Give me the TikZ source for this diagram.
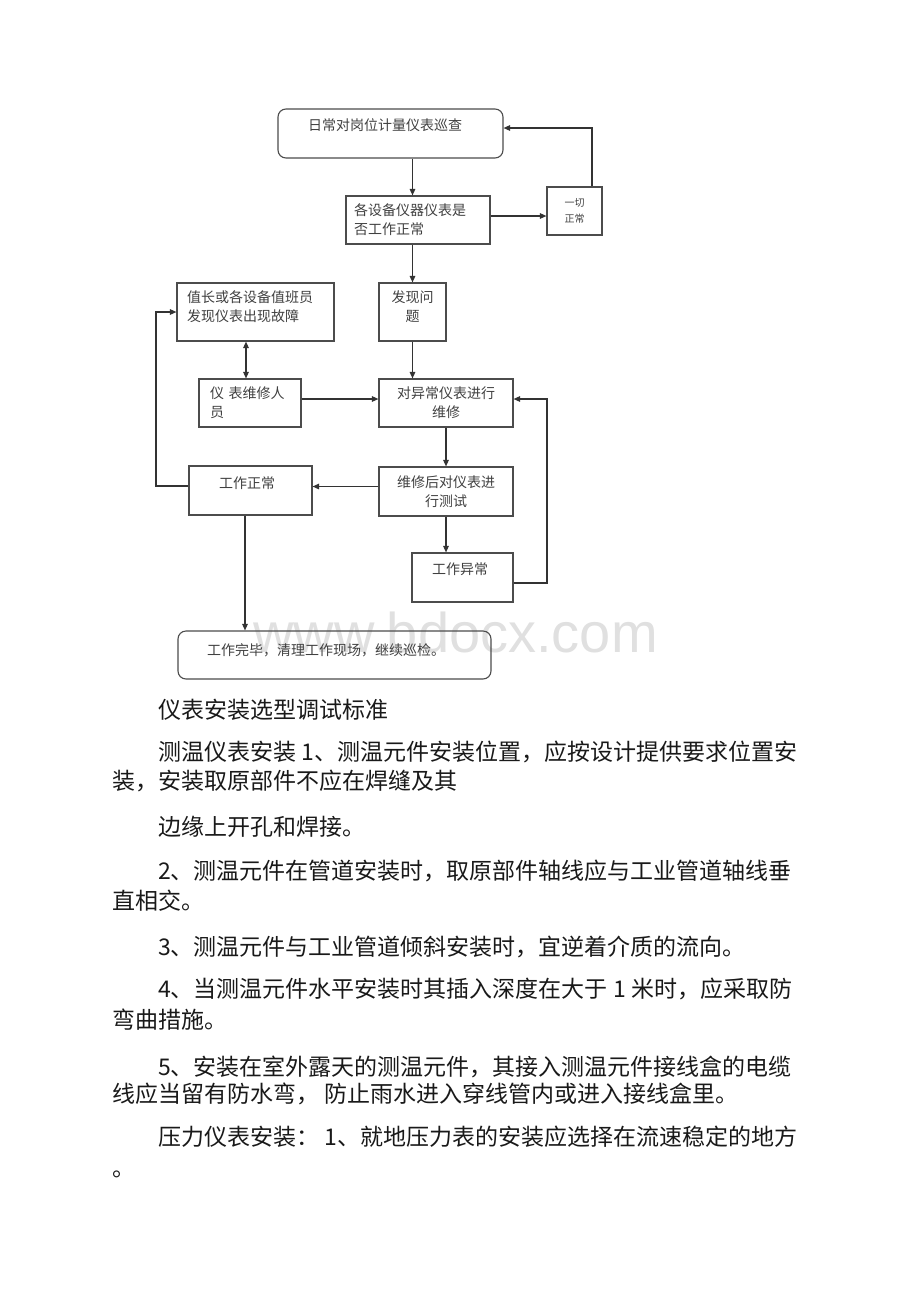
\documentclass[tikz,border=0pt]{standalone}
\usepackage{fontspec}
\newfontfamily\cjk{Noto Sans CJK SC}
\newfontfamily\wmfont{Liberation Sans}
\usetikzlibrary{positioning, arrows.meta}

\tikzset{
  box/.style={draw=black!70, line width=1.1pt, inner sep=0pt, text=black!75,
    font=\cjk\fontsize{14}{19}\selectfont},
  rbox/.style={box, rounded corners=8pt},
  lbl/.style={inner sep=0pt, text=black!75, font=\cjk\fontsize{14}{19}\selectfont},
  arr/.style={draw=black!80, line width=1.3pt, ->},
  darr/.style={arr, <->},
  para/.style={anchor=west, inner sep=0pt, text=black!90, text height=19pt, text depth=1.5pt,
    font=\cjk\fontsize{23}{30}\selectfont}
}

\begin{document}
\begin{tikzpicture}[x=1pt, y=-1pt, >={Triangle[length=6.5pt,width=5.5pt]}]
  \useasboundingbox (0,0) rectangle (920,1302);

  % watermark, behind the chart
  \node[anchor=base west, inner sep=0pt, text=black!12, font=\wmfont\fontsize{56}{56}\selectfont] (mark) at (253,652) {www.bdocx.com};

  % flow chart
  \node[rbox, minimum width=225pt, minimum height=49pt] (patrol) at (390.5,133.5) {};
  \node[lbl] (patrol-t) at (385,125) {日常对岗位计量仪表巡查};
  \node[box, minimum width=144pt, minimum height=48pt, text width=128pt, align=left] (check) at (418,220) {各设备仪器仪表是\\否工作正常};
  \node[box, minimum width=55pt, minimum height=48pt, align=center, font=\cjk\fontsize{10}{16}\selectfont] (allok) at (574.5,211) {一切\\正常};
  \node[box, minimum width=157pt, minimum height=58pt] (duty) at (255.5,312) {};
  \node[lbl, align=left, anchor=west] (duty-t) at (187,307) {值长或各设备值班员\\发现仪表出现故障};
  \node[box, minimum width=67pt, minimum height=58pt] (find) at (412.5,312) {};
  \node[lbl, align=center] (find-t) at (412.5,307) {发现问\\题};
  \node[box, minimum width=102pt, minimum height=48pt, text width=80pt, align=left] (repairer) at (250,403) {仪 表维修人\\员};
  \node[box, minimum width=134pt, minimum height=48pt, align=center] (fix) at (446,403) {对异常仪表进行\\维修};
  \node[box, minimum width=123pt, minimum height=49pt] (normal) at (250.5,490.5) {};
  \node[lbl] (normal-t) at (247,483) {工作正常};
  \node[box, minimum width=134pt, minimum height=49pt, align=center] (test) at (446,491.5) {维修后对仪表进\\行测试};
  \node[box, minimum width=101pt, minimum height=49pt] (abnormal) at (462.5,577.5) {};
  \node[lbl] (abnormal-t) at (460,569) {工作异常};
  \node[rbox, minimum width=313pt, minimum height=48pt] (finish) at (334.5,655) {};
  \node[lbl, anchor=west] (finish-t) at (207,650) {工作完毕，清理工作现场，继续巡检。};

  \coordinate (loopL) at (156,0);
  \coordinate (loopR) at (547,0);

  \draw[arr] (patrol.south -| find.north) -- (check.north -| find.north);
  \draw[arr] ([yshift=4pt]check.east) -- ([yshift=4pt]check.east -| allok.west);
  \draw[arr] ([xshift=17.5pt]allok.north) |- ([yshift=5.5pt]patrol.east);
  \draw[arr] (check.south -| find.north) -- (find.north);
  \draw[darr] ([xshift=-4pt]repairer.north |- duty.south) -- ([xshift=-4pt]repairer.north);
  \draw[arr] (find.south) -- (find.south |- fix.north);
  \draw[arr] ([yshift=4pt]repairer.east) -- ([yshift=4pt]repairer.east -| fix.west);
  \draw[arr] (fix.south) -- (test.north);
  \draw[arr] ([yshift=5pt]test.west) -- ([yshift=5pt]test.west -| normal.east);
  \draw[arr] (test.south) -- (test.south |- abnormal.north);
  \draw[arr] ([yshift=-5.5pt]abnormal.east) -| ([yshift=4pt]fix.east -| loopR) -- ([yshift=4pt]fix.east);
  \draw[arr] ([yshift=4.5pt]normal.west) -| (duty.west -| loopL) -- (duty.west);
  \draw[arr] ([xshift=-5.5pt]normal.south) -- ([xshift=-5.5pt]normal.south |- finish.north);

  % text below the chart
  \node[para] (head) at (158,710) {仪表安装选型调试标准};
  \node[para] (t1a) at (158,752) {测温仪表安装 1、测温元件安装位置，应按设计提供要求位置安};
  \node[para] (t1b) at (112,781) {装，安装取原部件不应在焊缝及其};
  \node[para] (t1c) at (158,827) {边缘上开孔和焊接。};
  \node[para] (t2a) at (158,871) {2、测温元件在管道安装时，取原部件轴线应与工业管道轴线垂};
  \node[para] (t2b) at (112,901) {直相交。};
  \node[para] (t3) at (158,947) {3、测温元件与工业管道倾斜安装时，宜逆着介质的流向。};
  \node[para] (t4a) at (158,989) {4、当测温元件水平安装时其插入深度在大于 1 米时，应采取防};
  \node[para] (t4b) at (112,1020) {弯曲措施。};
  \node[para] (t5a) at (158,1067) {5、安装在室外露天的测温元件，其接入测温元件接线盒的电缆};
  \node[para] (t5b) at (112,1094) {线应当留有防水弯， 防止雨水进入穿线管内或进入接线盒里。};
  \node[para] (p1a) at (158,1137) {压力仪表安装： 1、就地压力表的安装应选择在流速稳定的地方};
  \node[para] (p1b) at (112,1168) {。};
\end{tikzpicture}
\end{document}
